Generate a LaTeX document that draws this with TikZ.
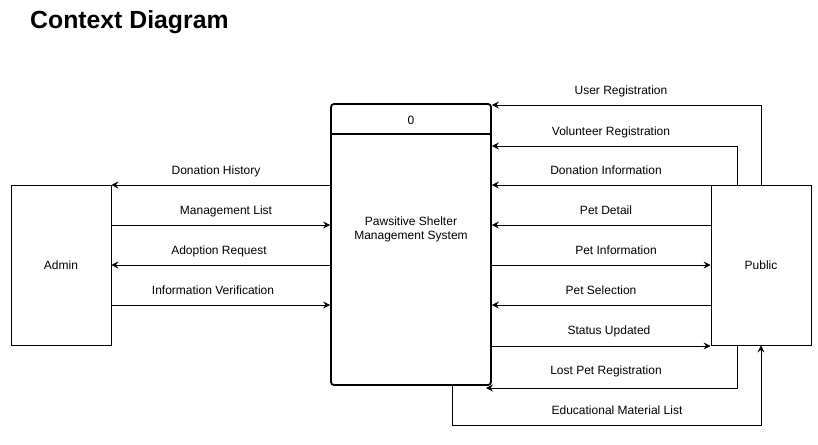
\documentclass[tikz,border=0pt]{standalone}
\usepackage{fontspec}
\setmainfont{Liberation Sans}
\usetikzlibrary{arrows.meta}
\begin{document}
\begin{tikzpicture}[x=1pt,y=-1pt,
  ent/.style={draw, line width=0.8pt, minimum width=100pt, minimum height=160pt, inner sep=0pt, font=\fontsize{12}{14}\selectfont},
  procbox/.style={draw, line width=1.8pt, rounded corners=3pt, minimum width=160pt, minimum height=281pt, inner sep=0pt},
  flow/.style={line width=0.8pt, -{Stealth[length=7pt,width=7pt,inset=2.5pt]}},
  lbl/.style={font=\fontsize{12}{14}\selectfont, inner sep=0pt, anchor=base}]
\useasboundingbox (0,0) rectangle (818,444);

\node[anchor=base west, font=\fontsize{24.8}{28}\selectfont\bfseries, inner sep=0pt] (title) at (30,28.8) {Context Diagram};

\node[ent] (admin) at (61,265) {Admin};
\node[ent] (public) at (761,265) {Public};
\node[procbox] (proc) at (411,244.5) {};
\draw[line width=1.8pt] (proc.west |- 0,134) -- (proc.east |- 0,134);
\node[lbl] (pid) at (411,124) {0};
\node[lbl, align=center, font=\fontsize{12}{13.5}\selectfont] (pname) at (411,239) {Pawsitive Shelter\\Management System};

% Admin side
\draw[flow] (proc.west |- 0,185) -- (admin.east |- 0,185);
\draw[flow] (admin.east |- 0,225) -- (proc.west |- 0,225);
\draw[flow] (proc.west |- 0,265) -- (admin.east |- 0,265);
\draw[flow] (admin.east |- 0,305) -- (proc.west |- 0,305);
\node[lbl] (l1) at (216,174) {Donation History};
\node[lbl] (l2) at (226,214) {Management List};
\node[lbl] (l3) at (219,254) {Adoption Request};
\node[lbl] (l4) at (213,294) {Information Verification};

% Public side
\coordinate (ur) at (761,105);
\coordinate (vr) at (737,146);
\coordinate (lp) at (737,388);
\coordinate (lpend) at (486,388);
\coordinate (em1) at (452,425);
\coordinate (em2) at (761,425);
\draw[flow] (public.north) -- (ur) -- (proc.east |- ur);
\draw[flow] (public.north -| vr) -- (vr) -- (proc.east |- vr);
\draw[flow] (public.west |- 0,185) -- (proc.east |- 0,185);
\draw[flow] (public.west |- 0,225) -- (proc.east |- 0,225);
\draw[flow] (proc.east |- 0,265) -- (public.west |- 0,265);
\draw[flow] (public.west |- 0,305) -- (proc.east |- 0,305);
\draw[flow] (proc.east |- 0,346) -- (public.west |- 0,346);
\draw[flow] (public.south -| lp) -- (lp) -- (lpend);
\draw[flow] (proc.south -| em1) -- (em1) -- (em2) -- (public.south);
\node[lbl] (r1) at (621,94) {User Registration};
\node[lbl] (r2) at (611,135) {Volunteer Registration};
\node[lbl] (r3) at (606,174) {Donation Information};
\node[lbl] (r4) at (606,214) {Pet Detail};
\node[lbl] (r5) at (616,254) {Pet Information};
\node[lbl] (r6) at (601,294) {Pet Selection};
\node[lbl] (r7) at (609,334) {Status Updated};
\node[lbl] (r8) at (606,374) {Lost Pet Registration};
\node[lbl] (r9) at (617,414) {Educational Material List};
\end{tikzpicture}
\end{document}
